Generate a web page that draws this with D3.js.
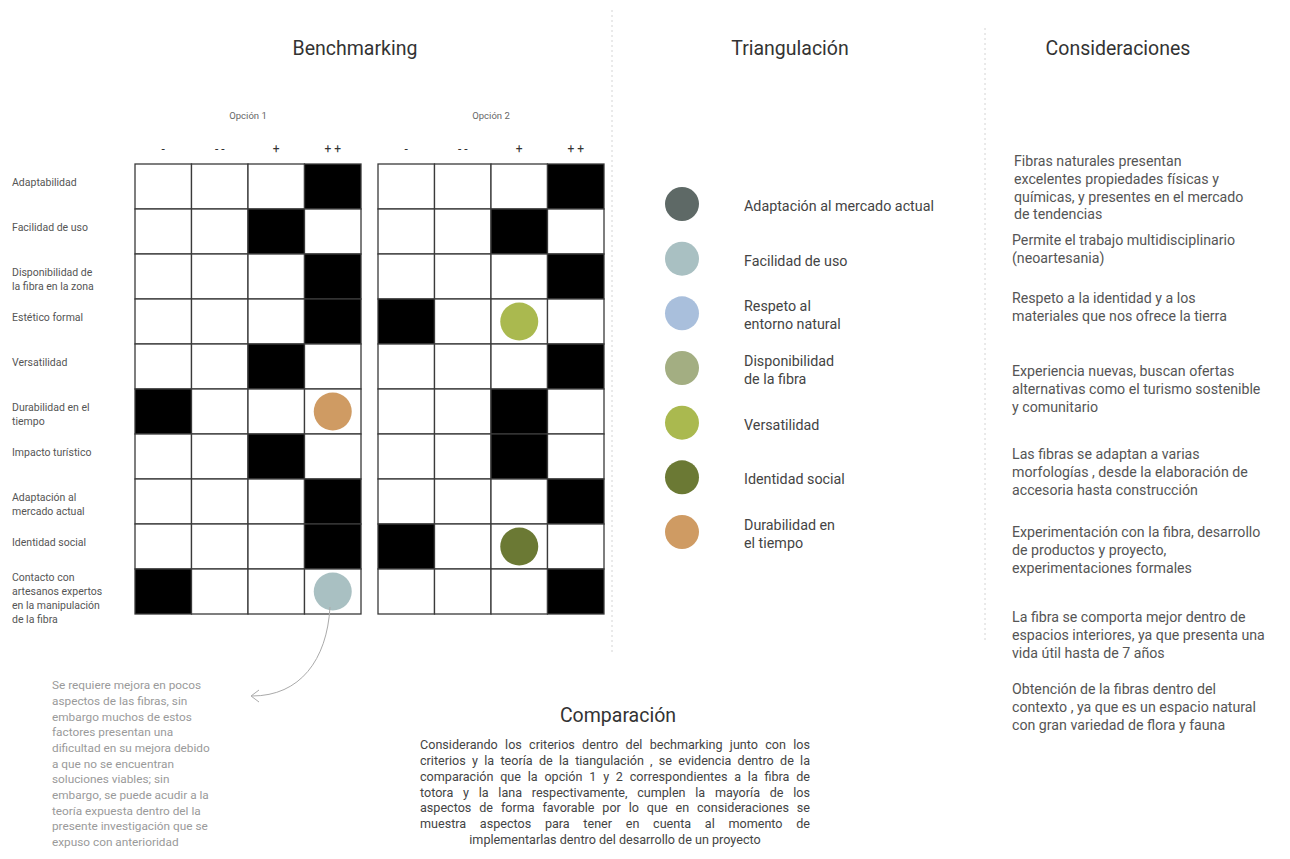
<!DOCTYPE html>
<html><head><meta charset="utf-8">
<script src="https://cdn.jsdelivr.net/npm/d3@7/dist/d3.min.js"></script>
<style>html,body{margin:0;padding:0;background:#fff;}svg{display:block;font-family:Roboto,"Noto Sans",sans-serif;}</style>
</head><body>
<svg id="c" width="1290" height="859"></svg>
<script>
// ---------- DATA ----------
const criteria = ["Adaptabilidad","Facilidad de uso","Disponibilidad de la fibra en la zona","Estético formal","Versatilidad","Durabilidad en el tiempo","Impacto turístico","Adaptación al mercado actual","Identidad social","Contacto con artesanos expertos en la manipulación de la fibra"];
const criteriaLines = [["Adaptabilidad"],["Facilidad de uso"],["Disponibilidad de","la fibra en la zona"],["Estético formal"],["Versatilidad"],["Durabilidad en el","tiempo"],["Impacto turístico"],["Adaptación al","mercado actual"],["Identidad social"],["Contacto con","artesanos expertos","en la manipulación","de la fibra"]];
const ratingLevels = ["-","- -","+","+ +"];
const optionNames = ["Opción 1","Opción 2"];
// rating chosen per criterion (black cell)
const option1Rating = ["+ +","+","+ +","+ +","+","-","+","+ +","+ +","-"];
const option2Rating = ["+ +","+","+ +","-","+ +","+","+","+ +","-","+ +"];
// coloured dots placed in grid: [criterion index, level, aspect]
const option1Dots = [[5,"+ +","Durabilidad en el tiempo"],[9,"+ +","Facilidad de uso"]];
const option2Dots = [[3,"+","Versatilidad"],[8,"+","Identidad social"]];
const aspects = ["Adaptación al mercado actual","Facilidad de uso","Respeto al entorno natural","Disponibilidad de la fibra","Versatilidad","Identidad social","Durabilidad en el tiempo"];
const aspectLines = [["Adaptación al mercado actual"],["Facilidad de uso"],["Respeto al","entorno natural"],["Disponibilidad","de la fibra"],["Versatilidad"],["Identidad social"],["Durabilidad en","el tiempo"]];
const aspectColors = ["#5e6966","#a9c0c2","#a9bfdc","#a3ae82","#aab94f","#6b7934","#cf9b63"];
const titles = ["Benchmarking","Triangulación","Consideraciones"];
const considerations = [
 ["Fibras naturales presentan","excelentes propiedades físicas y","químicas, y presentes en el mercado","de tendencias"],
 ["Permite el trabajo multidisciplinario","(neoartesania)"],
 ["Respeto a la identidad y a los","materiales que nos ofrece la tierra"],
 ["Experiencia nuevas, buscan ofertas","alternativas como el turismo sostenible","y comunitario"],
 ["Las fibras se adaptan a varias","morfologías , desde la elaboración de","accesoria hasta construcción"],
 ["Experimentación con la fibra, desarrollo","de productos y proyecto,","experimentaciones formales"],
 ["La fibra se comporta mejor dentro de","espacios interiores, ya que presenta una","vida útil hasta de 7 años"],
 ["Obtención de la fibras dentro del","contexto , ya que es un espacio natural","con gran variedad de flora y fauna"]
];
const considerationTops = [161,240,298,371,454,532,617,689];
const noteLines = ["Se requiere mejora en pocos","aspectos de las fibras, sin","embargo muchos de estos","factores presentan una","dificultad en su mejora debido","a que no se encuentran","soluciones viables; sin","embargo, se puede acudir a la","teoría expuesta dentro del la","presente investigación que se","expuso con anterioridad"];
const comparisonTitle = "Comparación";
const comparisonLines = ["Considerando los criterios dentro del bechmarking junto con los","criterios y la teoría de la tiangulación , se evidencia dentro de la","comparación que la opción 1 y 2 correspondientes a la fibra de","totora y la lana respectivamente, cumplen la mayoría de los","aspectos de forma favorable por lo que en consideraciones se","muestra aspectos para tener en cuenta al momento de","implementarlas dentro del desarrollo de un proyecto"];

// ---------- DRAW ----------
const svg = d3.select("#c");
const colorOf = d3.scaleOrdinal(aspects, aspectColors);

// separators
[[612,10,652],[985,28,640]].forEach(([x,y0,y1])=>{
  svg.append("line").attr("x1",x).attr("x2",x).attr("y1",y0).attr("y2",y1)
    .attr("stroke","#d4d4d4").attr("stroke-width",1).attr("stroke-dasharray","2,3");
});

// titles
const titleX = d3.scaleOrdinal(titles,[355,790,1118]);
svg.selectAll("text.title").data(titles).join("text").attr("class","title")
  .attr("x",d=>titleX(d)).attr("y",55).attr("text-anchor","middle")
  .attr("font-size",19.5).attr("fill","#333").text(d=>d);

const y = d3.scaleBand(criteria,[164,614]);
const grids = [
  {name:optionNames[0], rating:option1Rating, dots:option1Dots, x:d3.scaleBand(ratingLevels,[135,361])},
  {name:optionNames[1], rating:option2Rating, dots:option2Dots, x:d3.scaleBand(ratingLevels,[378,604])}
];
grids.forEach(g=>{
  const G = svg.append("g");
  const [a,b] = g.x.range();
  G.append("text").attr("x",(a+b)/2).attr("y",119).attr("text-anchor","middle")
    .attr("font-size",9.5).attr("fill","#666").text(g.name);
  G.selectAll("text.lvl").data(ratingLevels).join("text").attr("class","lvl")
    .attr("x",d=>g.x(d)+g.x.bandwidth()/2).attr("y",153).attr("text-anchor","middle")
    .attr("font-size",12).attr("fill","#333").text(d=>d);
  const cells = [];
  criteria.forEach((c,i)=>ratingLevels.forEach(l=>cells.push({c,l,on:g.rating[i]===l})));
  G.selectAll("rect.cell").data(cells).join("rect").attr("class","cell")
    .attr("x",d=>g.x(d.l)).attr("y",d=>y(d.c)).attr("width",g.x.bandwidth()).attr("height",y.bandwidth())
    .attr("fill",d=>d.on?"#000":"#fff").attr("stroke","#3a3a3a").attr("stroke-width",1.3);
  G.selectAll("circle.dot").data(g.dots).join("circle").attr("class","dot")
    .attr("cx",d=>g.x(d[1])+g.x.bandwidth()/2).attr("cy",d=>y(criteria[d[0]])+y.bandwidth()/2)
    .attr("r",19).attr("fill",d=>colorOf(d[2]));
});

// row labels
criteriaLines.forEach((lines,i)=>{
  const top = y(criteria[i]) + (lines.length>2?8:18);
  const t = svg.append("text").attr("font-size",10.5).attr("fill","#555");
  lines.forEach((s,k)=>t.append("tspan").attr("x",12).attr("y",top+k*14).attr("dy","0.35em").text(s));
});

// legend
const ly = d3.scalePoint(aspects,[204,532]);
aspects.forEach((a,i)=>{
  const cy = ly(a);
  svg.append("circle").attr("cx",682).attr("cy",cy).attr("r",17).attr("fill",colorOf(a));
  const lines = aspectLines[i];
  const t = svg.append("text").attr("font-size",14.3).attr("fill","#444");
  lines.forEach((s,k)=>t.append("tspan").attr("x",744).attr("y",cy+2+(k-(lines.length-1)/2)*18).attr("dy","0.35em").text(s));
});

// considerations
considerations.forEach((lines,i)=>{
  const t = svg.append("text").attr("font-size",14.2).attr("fill","#555");
  lines.forEach((s,k)=>t.append("tspan").attr("x",i===0?1014:1012).attr("y",considerationTops[i]+k*17.8).attr("dy","0.35em").text(s));
});

// note
const nt = svg.append("text").attr("font-size",11.8).attr("fill","#9a9a9a");
noteLines.forEach((s,k)=>nt.append("tspan").attr("x",52).attr("y",685+k*15.7).attr("dy","0.35em").text(s));

// arrow
svg.append("path").attr("d","M330,607 C327,660 300,696 252,696").attr("fill","none").attr("stroke","#aaa").attr("stroke-width",1);
svg.append("path").attr("d","M259,690 L251,696 L259,702").attr("fill","none").attr("stroke","#aaa").attr("stroke-width",1);

// comparison
svg.append("text").attr("x",618).attr("y",722).attr("text-anchor","middle").attr("font-size",19.5).attr("fill","#333").text(comparisonTitle);
const L = 420, R = 810;
comparisonLines.forEach((s,k)=>{
  const last = k===comparisonLines.length-1;
  const t = svg.append("text").attr("font-size",12.6).attr("fill","#444")
    .attr("y",745+k*15.7).attr("dy","0.35em").text(s);
  if(last){ t.attr("x",(L+R)/2).attr("text-anchor","middle"); }
  else {
    t.attr("x",L);
    const w = t.node().getComputedTextLength();
    const spaces = (s.match(/ /g)||[]).length;
    if(spaces>0) t.attr("word-spacing",(R-L-w)/spaces);
  }
});
</script>
</body></html>
